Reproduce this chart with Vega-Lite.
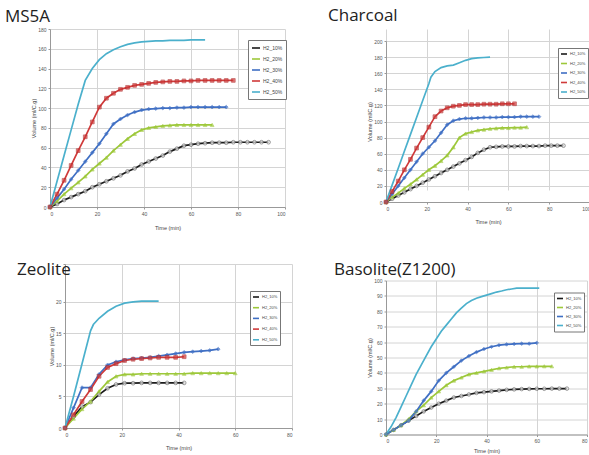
{
  "$schema": "https://vega.github.io/schema/vega-lite/v6.json",
  "padding": {"left": 5, "top": 7, "right": 0, "bottom": 0},
  "background": "white",
  "spacing": 35,
  "datasets": {
    "ms5a": [
      {"s":"H2_10%","t":0,"v":0},{"s":"H2_10%","t":3,"v":3},{"s":"H2_10%","t":6,"v":7},{"s":"H2_10%","t":9,"v":10},{"s":"H2_10%","t":12,"v":13},{"s":"H2_10%","t":15,"v":16},{"s":"H2_10%","t":18,"v":20},{"s":"H2_10%","t":21,"v":23},{"s":"H2_10%","t":24,"v":26},{"s":"H2_10%","t":27,"v":29},{"s":"H2_10%","t":30,"v":32},{"s":"H2_10%","t":33,"v":36},{"s":"H2_10%","t":36,"v":39},{"s":"H2_10%","t":39,"v":43},{"s":"H2_10%","t":42,"v":46},{"s":"H2_10%","t":45,"v":49},{"s":"H2_10%","t":48,"v":52},{"s":"H2_10%","t":51,"v":56},{"s":"H2_10%","t":54,"v":59},{"s":"H2_10%","t":57,"v":62},{"s":"H2_10%","t":60,"v":63},{"s":"H2_10%","t":63,"v":64},{"s":"H2_10%","t":66,"v":64.5},{"s":"H2_10%","t":69,"v":65},{"s":"H2_10%","t":72,"v":65},{"s":"H2_10%","t":75,"v":65},{"s":"H2_10%","t":78,"v":65.5},{"s":"H2_10%","t":81,"v":65.5},{"s":"H2_10%","t":84,"v":65.5},{"s":"H2_10%","t":87,"v":65.5},{"s":"H2_10%","t":90,"v":65.5},{"s":"H2_10%","t":93,"v":65.5},
      {"s":"H2_20%","t":0,"v":0},{"s":"H2_20%","t":3,"v":6},{"s":"H2_20%","t":6,"v":13},{"s":"H2_20%","t":9,"v":19},{"s":"H2_20%","t":12,"v":25},{"s":"H2_20%","t":15,"v":31},{"s":"H2_20%","t":18,"v":38},{"s":"H2_20%","t":21,"v":44},{"s":"H2_20%","t":24,"v":50},{"s":"H2_20%","t":27,"v":57},{"s":"H2_20%","t":30,"v":63},{"s":"H2_20%","t":33,"v":69},{"s":"H2_20%","t":36,"v":74},{"s":"H2_20%","t":39,"v":78},{"s":"H2_20%","t":42,"v":80},{"s":"H2_20%","t":45,"v":81},{"s":"H2_20%","t":48,"v":82},{"s":"H2_20%","t":51,"v":82.5},{"s":"H2_20%","t":54,"v":83},{"s":"H2_20%","t":57,"v":83},{"s":"H2_20%","t":60,"v":83},{"s":"H2_20%","t":63,"v":83},{"s":"H2_20%","t":66,"v":83},{"s":"H2_20%","t":69,"v":83},
      {"s":"H2_30%","t":0,"v":0},{"s":"H2_30%","t":3,"v":9},{"s":"H2_30%","t":6,"v":18},{"s":"H2_30%","t":9,"v":28},{"s":"H2_30%","t":12,"v":37},{"s":"H2_30%","t":15,"v":46},{"s":"H2_30%","t":18,"v":55},{"s":"H2_30%","t":21,"v":64},{"s":"H2_30%","t":24,"v":74},{"s":"H2_30%","t":27,"v":84},{"s":"H2_30%","t":30,"v":89},{"s":"H2_30%","t":33,"v":93},{"s":"H2_30%","t":36,"v":96},{"s":"H2_30%","t":39,"v":98},{"s":"H2_30%","t":42,"v":99},{"s":"H2_30%","t":45,"v":99.5},{"s":"H2_30%","t":48,"v":100},{"s":"H2_30%","t":51,"v":100},{"s":"H2_30%","t":54,"v":100.5},{"s":"H2_30%","t":57,"v":100.5},{"s":"H2_30%","t":60,"v":101},{"s":"H2_30%","t":63,"v":101},{"s":"H2_30%","t":66,"v":101},{"s":"H2_30%","t":69,"v":101},{"s":"H2_30%","t":72,"v":101},{"s":"H2_30%","t":75,"v":101},
      {"s":"H2_40%","t":0,"v":0},{"s":"H2_40%","t":3,"v":13},{"s":"H2_40%","t":6,"v":27},{"s":"H2_40%","t":9,"v":42},{"s":"H2_40%","t":12,"v":57},{"s":"H2_40%","t":15,"v":71},{"s":"H2_40%","t":18,"v":86},{"s":"H2_40%","t":21,"v":101},{"s":"H2_40%","t":24,"v":110},{"s":"H2_40%","t":27,"v":115},{"s":"H2_40%","t":30,"v":119},{"s":"H2_40%","t":33,"v":121},{"s":"H2_40%","t":36,"v":123},{"s":"H2_40%","t":39,"v":124},{"s":"H2_40%","t":42,"v":125},{"s":"H2_40%","t":45,"v":126},{"s":"H2_40%","t":48,"v":126.5},{"s":"H2_40%","t":51,"v":127},{"s":"H2_40%","t":54,"v":127},{"s":"H2_40%","t":57,"v":127.5},{"s":"H2_40%","t":60,"v":127.5},{"s":"H2_40%","t":63,"v":128},{"s":"H2_40%","t":66,"v":128},{"s":"H2_40%","t":69,"v":128},{"s":"H2_40%","t":72,"v":128},{"s":"H2_40%","t":75,"v":128},{"s":"H2_40%","t":78,"v":128},
      {"s":"H2_50%","t":0,"v":0},{"s":"H2_50%","t":3,"v":26},{"s":"H2_50%","t":6,"v":52},{"s":"H2_50%","t":9,"v":78},{"s":"H2_50%","t":12,"v":104},{"s":"H2_50%","t":15,"v":128},{"s":"H2_50%","t":18,"v":140},{"s":"H2_50%","t":21,"v":149},{"s":"H2_50%","t":24,"v":155},{"s":"H2_50%","t":27,"v":159},{"s":"H2_50%","t":30,"v":162},{"s":"H2_50%","t":33,"v":164.5},{"s":"H2_50%","t":36,"v":166},{"s":"H2_50%","t":39,"v":167},{"s":"H2_50%","t":42,"v":167.5},{"s":"H2_50%","t":45,"v":168},{"s":"H2_50%","t":48,"v":168},{"s":"H2_50%","t":51,"v":168.5},{"s":"H2_50%","t":54,"v":168.5},{"s":"H2_50%","t":57,"v":168.5},{"s":"H2_50%","t":60,"v":169},{"s":"H2_50%","t":63,"v":169},{"s":"H2_50%","t":66,"v":169}
    ],
    "charcoal": [
      {"s":"H2_10%","t":0,"v":0},{"s":"H2_10%","t":3,"v":4},{"s":"H2_10%","t":6,"v":8},{"s":"H2_10%","t":9,"v":12},{"s":"H2_10%","t":12,"v":16},{"s":"H2_10%","t":15,"v":20},{"s":"H2_10%","t":18,"v":24},{"s":"H2_10%","t":21,"v":28},{"s":"H2_10%","t":24,"v":32},{"s":"H2_10%","t":27,"v":36},{"s":"H2_10%","t":30,"v":40},{"s":"H2_10%","t":33,"v":44},{"s":"H2_10%","t":36,"v":48},{"s":"H2_10%","t":39,"v":52},{"s":"H2_10%","t":42,"v":56},{"s":"H2_10%","t":45,"v":61},{"s":"H2_10%","t":48,"v":65},{"s":"H2_10%","t":51,"v":68},{"s":"H2_10%","t":54,"v":68.5},{"s":"H2_10%","t":57,"v":69},{"s":"H2_10%","t":60,"v":69},{"s":"H2_10%","t":63,"v":69},{"s":"H2_10%","t":66,"v":69.5},{"s":"H2_10%","t":69,"v":69.5},{"s":"H2_10%","t":72,"v":69.5},{"s":"H2_10%","t":75,"v":69.5},{"s":"H2_10%","t":78,"v":70},{"s":"H2_10%","t":81,"v":70},{"s":"H2_10%","t":84,"v":70},{"s":"H2_10%","t":87,"v":70},
      {"s":"H2_20%","t":0,"v":0},{"s":"H2_20%","t":3,"v":6},{"s":"H2_20%","t":6,"v":11},{"s":"H2_20%","t":9,"v":17},{"s":"H2_20%","t":12,"v":22},{"s":"H2_20%","t":15,"v":28},{"s":"H2_20%","t":18,"v":34},{"s":"H2_20%","t":21,"v":40},{"s":"H2_20%","t":24,"v":45},{"s":"H2_20%","t":27,"v":51},{"s":"H2_20%","t":30,"v":58},{"s":"H2_20%","t":33,"v":68},{"s":"H2_20%","t":36,"v":80},{"s":"H2_20%","t":39,"v":85},{"s":"H2_20%","t":42,"v":87},{"s":"H2_20%","t":45,"v":89},{"s":"H2_20%","t":48,"v":90},{"s":"H2_20%","t":51,"v":91},{"s":"H2_20%","t":54,"v":91.5},{"s":"H2_20%","t":57,"v":92},{"s":"H2_20%","t":60,"v":92},{"s":"H2_20%","t":63,"v":92.5},{"s":"H2_20%","t":66,"v":92.5},{"s":"H2_20%","t":69,"v":93},
      {"s":"H2_30%","t":0,"v":0},{"s":"H2_30%","t":3,"v":10},{"s":"H2_30%","t":6,"v":20},{"s":"H2_30%","t":9,"v":30},{"s":"H2_30%","t":12,"v":40},{"s":"H2_30%","t":15,"v":50},{"s":"H2_30%","t":18,"v":60},{"s":"H2_30%","t":21,"v":68},{"s":"H2_30%","t":24,"v":76},{"s":"H2_30%","t":27,"v":86},{"s":"H2_30%","t":30,"v":96},{"s":"H2_30%","t":33,"v":101},{"s":"H2_30%","t":36,"v":103},{"s":"H2_30%","t":39,"v":104},{"s":"H2_30%","t":42,"v":104},{"s":"H2_30%","t":45,"v":104.5},{"s":"H2_30%","t":48,"v":105},{"s":"H2_30%","t":51,"v":105},{"s":"H2_30%","t":54,"v":105},{"s":"H2_30%","t":57,"v":105.5},{"s":"H2_30%","t":60,"v":105.5},{"s":"H2_30%","t":63,"v":105.5},{"s":"H2_30%","t":66,"v":106},{"s":"H2_30%","t":69,"v":106},{"s":"H2_30%","t":72,"v":106},{"s":"H2_30%","t":75,"v":106},
      {"s":"H2_40%","t":0,"v":0},{"s":"H2_40%","t":3,"v":13},{"s":"H2_40%","t":6,"v":26},{"s":"H2_40%","t":9,"v":40},{"s":"H2_40%","t":12,"v":53},{"s":"H2_40%","t":15,"v":67},{"s":"H2_40%","t":18,"v":80},{"s":"H2_40%","t":21,"v":93},{"s":"H2_40%","t":24,"v":106},{"s":"H2_40%","t":27,"v":113},{"s":"H2_40%","t":30,"v":117},{"s":"H2_40%","t":33,"v":119},{"s":"H2_40%","t":36,"v":120},{"s":"H2_40%","t":39,"v":121},{"s":"H2_40%","t":42,"v":121},{"s":"H2_40%","t":45,"v":121},{"s":"H2_40%","t":48,"v":121.5},{"s":"H2_40%","t":51,"v":121.5},{"s":"H2_40%","t":54,"v":121.5},{"s":"H2_40%","t":57,"v":122},{"s":"H2_40%","t":60,"v":122},{"s":"H2_40%","t":63,"v":122},
      {"s":"H2_50%","t":0,"v":0},{"s":"H2_50%","t":3,"v":21},{"s":"H2_50%","t":6,"v":42},{"s":"H2_50%","t":9,"v":63},{"s":"H2_50%","t":12,"v":84},{"s":"H2_50%","t":15,"v":105},{"s":"H2_50%","t":18,"v":126},{"s":"H2_50%","t":21,"v":147},{"s":"H2_50%","t":22,"v":155},{"s":"H2_50%","t":24,"v":162},{"s":"H2_50%","t":27,"v":167},{"s":"H2_50%","t":30,"v":169},{"s":"H2_50%","t":33,"v":170},{"s":"H2_50%","t":36,"v":173},{"s":"H2_50%","t":39,"v":176},{"s":"H2_50%","t":42,"v":178},{"s":"H2_50%","t":45,"v":179},{"s":"H2_50%","t":48,"v":179.5},{"s":"H2_50%","t":51,"v":180}
    ],
    "zeolite": [
      {"s":"H2_10%","t":0,"v":0},{"s":"H2_10%","t":3,"v":1.8},{"s":"H2_10%","t":6,"v":3.4},{"s":"H2_10%","t":9,"v":4.1},{"s":"H2_10%","t":12,"v":5.3},{"s":"H2_10%","t":15,"v":6.3},{"s":"H2_10%","t":18,"v":6.9},{"s":"H2_10%","t":21,"v":7.1},{"s":"H2_10%","t":24,"v":7.1},{"s":"H2_10%","t":27,"v":7.15},{"s":"H2_10%","t":30,"v":7.15},{"s":"H2_10%","t":33,"v":7.15},{"s":"H2_10%","t":36,"v":7.15},{"s":"H2_10%","t":39,"v":7.15},{"s":"H2_10%","t":42,"v":7.15},
      {"s":"H2_20%","t":0,"v":0},{"s":"H2_20%","t":3,"v":1.5},{"s":"H2_20%","t":6,"v":3},{"s":"H2_20%","t":9,"v":4.2},{"s":"H2_20%","t":12,"v":5.8},{"s":"H2_20%","t":15,"v":7.3},{"s":"H2_20%","t":18,"v":8.2},{"s":"H2_20%","t":21,"v":8.5},{"s":"H2_20%","t":24,"v":8.5},{"s":"H2_20%","t":27,"v":8.6},{"s":"H2_20%","t":30,"v":8.6},{"s":"H2_20%","t":33,"v":8.6},{"s":"H2_20%","t":36,"v":8.6},{"s":"H2_20%","t":39,"v":8.6},{"s":"H2_20%","t":42,"v":8.6},{"s":"H2_20%","t":45,"v":8.7},{"s":"H2_20%","t":48,"v":8.7},{"s":"H2_20%","t":51,"v":8.7},{"s":"H2_20%","t":54,"v":8.7},{"s":"H2_20%","t":57,"v":8.7},{"s":"H2_20%","t":60,"v":8.7},
      {"s":"H2_30%","t":0,"v":0},{"s":"H2_30%","t":3,"v":3.2},{"s":"H2_30%","t":6,"v":6.4},{"s":"H2_30%","t":9,"v":6.4},{"s":"H2_30%","t":12,"v":8.5},{"s":"H2_30%","t":15,"v":10},{"s":"H2_30%","t":18,"v":10.5},{"s":"H2_30%","t":21,"v":10.8},{"s":"H2_30%","t":24,"v":11},{"s":"H2_30%","t":27,"v":11.1},{"s":"H2_30%","t":30,"v":11.2},{"s":"H2_30%","t":33,"v":11.4},{"s":"H2_30%","t":36,"v":11.6},{"s":"H2_30%","t":39,"v":11.8},{"s":"H2_30%","t":42,"v":12},{"s":"H2_30%","t":45,"v":12.1},{"s":"H2_30%","t":48,"v":12.2},{"s":"H2_30%","t":51,"v":12.3},{"s":"H2_30%","t":54,"v":12.5},
      {"s":"H2_40%","t":0,"v":0},{"s":"H2_40%","t":3,"v":2.1},{"s":"H2_40%","t":6,"v":4.2},{"s":"H2_40%","t":9,"v":6.1},{"s":"H2_40%","t":12,"v":8.2},{"s":"H2_40%","t":15,"v":9.6},{"s":"H2_40%","t":18,"v":10.2},{"s":"H2_40%","t":21,"v":10.7},{"s":"H2_40%","t":24,"v":10.9},{"s":"H2_40%","t":27,"v":11},{"s":"H2_40%","t":30,"v":11.1},{"s":"H2_40%","t":33,"v":11.2},{"s":"H2_40%","t":36,"v":11.2},{"s":"H2_40%","t":39,"v":11.2},{"s":"H2_40%","t":42,"v":11.3},
      {"s":"H2_50%","t":0,"v":0},{"s":"H2_50%","t":3,"v":5},{"s":"H2_50%","t":6,"v":10.2},{"s":"H2_50%","t":9,"v":15.4},{"s":"H2_50%","t":10,"v":16.4},{"s":"H2_50%","t":12,"v":17.4},{"s":"H2_50%","t":15,"v":18.5},{"s":"H2_50%","t":18,"v":19.3},{"s":"H2_50%","t":21,"v":19.8},{"s":"H2_50%","t":24,"v":20},{"s":"H2_50%","t":27,"v":20.1},{"s":"H2_50%","t":30,"v":20.1},{"s":"H2_50%","t":33,"v":20.1}
    ],
    "basolite": [
      {"s":"H2_10%","t":0,"v":0},{"s":"H2_10%","t":3,"v":3},{"s":"H2_10%","t":6,"v":6},{"s":"H2_10%","t":9,"v":9},{"s":"H2_10%","t":12,"v":12},{"s":"H2_10%","t":15,"v":15},{"s":"H2_10%","t":18,"v":17.5},{"s":"H2_10%","t":21,"v":20},{"s":"H2_10%","t":24,"v":22},{"s":"H2_10%","t":27,"v":24},{"s":"H2_10%","t":30,"v":25},{"s":"H2_10%","t":33,"v":26},{"s":"H2_10%","t":36,"v":27},{"s":"H2_10%","t":39,"v":27.5},{"s":"H2_10%","t":42,"v":28},{"s":"H2_10%","t":45,"v":28.5},{"s":"H2_10%","t":48,"v":29},{"s":"H2_10%","t":51,"v":29.3},{"s":"H2_10%","t":54,"v":29.5},{"s":"H2_10%","t":57,"v":29.6},{"s":"H2_10%","t":60,"v":29.7},{"s":"H2_10%","t":63,"v":29.7},{"s":"H2_10%","t":66,"v":29.8},{"s":"H2_10%","t":69,"v":29.8},{"s":"H2_10%","t":72,"v":29.8},
      {"s":"H2_20%","t":0,"v":0},{"s":"H2_20%","t":3,"v":3},{"s":"H2_20%","t":6,"v":6},{"s":"H2_20%","t":9,"v":10},{"s":"H2_20%","t":12,"v":15},{"s":"H2_20%","t":15,"v":19},{"s":"H2_20%","t":18,"v":24},{"s":"H2_20%","t":21,"v":28},{"s":"H2_20%","t":24,"v":32},{"s":"H2_20%","t":27,"v":35},{"s":"H2_20%","t":30,"v":37},{"s":"H2_20%","t":33,"v":39},{"s":"H2_20%","t":36,"v":40},{"s":"H2_20%","t":39,"v":41},{"s":"H2_20%","t":42,"v":42},{"s":"H2_20%","t":45,"v":43},{"s":"H2_20%","t":48,"v":43.5},{"s":"H2_20%","t":51,"v":44},{"s":"H2_20%","t":54,"v":44},{"s":"H2_20%","t":57,"v":44.2},{"s":"H2_20%","t":60,"v":44.2},{"s":"H2_20%","t":63,"v":44.3},{"s":"H2_20%","t":66,"v":44.3},
      {"s":"H2_30%","t":0,"v":0},{"s":"H2_30%","t":3,"v":3},{"s":"H2_30%","t":6,"v":6},{"s":"H2_30%","t":9,"v":9},{"s":"H2_30%","t":12,"v":15},{"s":"H2_30%","t":15,"v":22},{"s":"H2_30%","t":18,"v":28},{"s":"H2_30%","t":21,"v":35},{"s":"H2_30%","t":24,"v":40},{"s":"H2_30%","t":27,"v":44},{"s":"H2_30%","t":30,"v":48},{"s":"H2_30%","t":33,"v":51},{"s":"H2_30%","t":36,"v":53.5},{"s":"H2_30%","t":39,"v":55.5},{"s":"H2_30%","t":42,"v":57},{"s":"H2_30%","t":45,"v":58},{"s":"H2_30%","t":48,"v":58.5},{"s":"H2_30%","t":51,"v":58.8},{"s":"H2_30%","t":54,"v":59},{"s":"H2_30%","t":57,"v":59},{"s":"H2_30%","t":60,"v":59.5},
      {"s":"H2_50%","t":0,"v":0},{"s":"H2_50%","t":2,"v":5},{"s":"H2_50%","t":4,"v":11},{"s":"H2_50%","t":6,"v":18},{"s":"H2_50%","t":8,"v":25},{"s":"H2_50%","t":10,"v":32},{"s":"H2_50%","t":12,"v":39},{"s":"H2_50%","t":14,"v":45},{"s":"H2_50%","t":16,"v":51},{"s":"H2_50%","t":18,"v":57},{"s":"H2_50%","t":20,"v":62},{"s":"H2_50%","t":22,"v":67},{"s":"H2_50%","t":24,"v":71},{"s":"H2_50%","t":26,"v":75},{"s":"H2_50%","t":28,"v":79},{"s":"H2_50%","t":30,"v":82},{"s":"H2_50%","t":32,"v":85},{"s":"H2_50%","t":34,"v":87},{"s":"H2_50%","t":36,"v":88.5},{"s":"H2_50%","t":38,"v":89.5},{"s":"H2_50%","t":40,"v":90.5},{"s":"H2_50%","t":42,"v":91.5},{"s":"H2_50%","t":44,"v":92.5},{"s":"H2_50%","t":46,"v":93.2},{"s":"H2_50%","t":48,"v":94},{"s":"H2_50%","t":50,"v":94.5},{"s":"H2_50%","t":52,"v":95},{"s":"H2_50%","t":55,"v":95},{"s":"H2_50%","t":58,"v":95},{"s":"H2_50%","t":61,"v":95}
    ]
  },
  "hconcat": [
    {
      "spacing": 30,
      "resolve": {"scale": {"x": "independent", "y": "independent", "color": "independent", "shape": "independent", "fill": "independent", "stroke": "independent", "size": "independent"}, "legend": {"color": "independent"}},
      "vconcat": [
        {
          "width": 235, "height": 178,
          "title": {"text": "MS5A", "dx": -45, "offset": 1.5},
          "data": {"name": "ms5a"},
          "encoding": {
            "x": {"field": "t", "type": "quantitative", "scale": {"domain": [0, 100], "nice": false}, "axis": {"values": [0, 20, 40, 60, 80, 100], "title": "Time (min)", "titlePadding": 9}},
            "y": {"field": "v", "type": "quantitative", "scale": {"domain": [0, 180], "nice": false}, "axis": {"values": [0, 20, 40, 60, 80, 100, 120, 140, 160, 180], "title": "Volume (ml/C.g)"}}
          },
          "layer": [
            {
              "mark": {"type": "line", "strokeWidth": 1.7},
              "encoding": {
                "color": {"field": "s", "type": "nominal", "scale": {"domain": ["H2_10%", "H2_20%", "H2_30%", "H2_40%", "H2_50%"], "range": ["#1a1a1a", "#9dc83a", "#3f6fc4", "#d03a3a", "#4bb0cc"]}, "legend": {"title": null, "orient": "none", "legendX": 198, "legendY": 11, "labelFontSize": 5, "symbolSize": 64, "padding": 3, "rowPadding": 2}}
              }
            },
            {
              "transform": [{"filter": "datum.s != 'H2_50%'"}],
              "mark": {"type": "point", "filled": true, "strokeWidth": 0.8},
              "encoding": {
                "shape": {"field": "s", "type": "nominal", "scale": {"domain": ["H2_10%", "H2_20%", "H2_30%", "H2_40%"], "range": ["circle", "triangle-up", "diamond", "square"]}, "legend": null},
                "size": {"field": "s", "type": "nominal", "scale": {"domain": ["H2_10%", "H2_20%", "H2_30%", "H2_40%"], "range": [14, 14, 14, 26]}, "legend": null},
                "fill": {"field": "s", "type": "nominal", "scale": {"domain": ["H2_10%", "H2_20%", "H2_30%", "H2_40%"], "range": ["#e8e8e8", "#9dc83a", "#3f6fc4", "#d03a3a"]}, "legend": null},
                "stroke": {"field": "s", "type": "nominal", "scale": {"domain": ["H2_10%", "H2_20%", "H2_30%", "H2_40%"], "range": ["#555555", "#9dc83a", "#3f6fc4", "#b02a2a"]}, "legend": null}
              }
            }
          ]
        },
        {
          "width": 242, "height": 164,
          "title": {"text": "Zeolite", "dx": -33, "offset": 0, "dy": 17},
          "data": {"name": "zeolite"},
          "encoding": {
            "x": {"field": "t", "type": "quantitative", "scale": {"domain": [0, 80], "nice": false, "range": [15, 242]}, "axis": {"values": [0, 20, 40, 60, 80], "title": "Time (min)", "titlePadding": 8}},
            "y": {"field": "v", "type": "quantitative", "scale": {"domain": [0, 26], "nice": false}, "axis": {"values": [0, 5, 10, 15, 20, 26], "labelExpr": "datum.value == 26 ? '' : datum.label", "offset": -15, "title": "Volume (ml/C.g)"}}
          },
          "layer": [
            {
              "mark": {"type": "line", "strokeWidth": 1.7},
              "encoding": {
                "color": {"field": "s", "type": "nominal", "scale": {"domain": ["H2_10%", "H2_20%", "H2_30%", "H2_40%", "H2_50%"], "range": ["#1a1a1a", "#9dc83a", "#3f6fc4", "#d03a3a", "#4bb0cc"]}, "legend": {"title": null, "orient": "none", "legendX": 200, "legendY": 27, "labelFontSize": 4, "symbolSize": 36, "padding": 2, "rowPadding": 2.7}}
              }
            },
            {
              "transform": [{"filter": "datum.s != 'H2_50%'"}],
              "mark": {"type": "point", "filled": true, "strokeWidth": 0.8},
              "encoding": {
                "shape": {"field": "s", "type": "nominal", "scale": {"domain": ["H2_10%", "H2_20%", "H2_30%", "H2_40%"], "range": ["circle", "triangle-up", "diamond", "square"]}, "legend": null},
                "size": {"field": "s", "type": "nominal", "scale": {"domain": ["H2_10%", "H2_20%", "H2_30%", "H2_40%"], "range": [14, 14, 14, 24]}, "legend": null},
                "fill": {"field": "s", "type": "nominal", "scale": {"domain": ["H2_10%", "H2_20%", "H2_30%", "H2_40%"], "range": ["#e8e8e8", "#9dc83a", "#3f6fc4", "#d03a3a"]}, "legend": null},
                "stroke": {"field": "s", "type": "nominal", "scale": {"domain": ["H2_10%", "H2_20%", "H2_30%", "H2_40%"], "range": ["#555555", "#9dc83a", "#3f6fc4", "#b02a2a"]}, "legend": null}
              }
            }
          ]
        }
      ]
    },
    {
      "spacing": 35.5,
      "resolve": {"scale": {"x": "independent", "y": "independent", "color": "independent", "shape": "independent", "fill": "independent", "stroke": "independent", "size": "independent"}, "legend": {"color": "independent"}},
      "vconcat": [
        {
          "width": 204, "height": 173,
          "title": {"text": "Charcoal", "dx": -58, "offset": 4},
          "data": {"name": "charcoal"},
          "encoding": {
            "x": {"field": "t", "type": "quantitative", "scale": {"domain": [0, 100], "nice": false}, "axis": {"values": [0, 20, 40, 60, 80, 100], "title": "Time (min)", "titlePadding": 8.5}},
            "y": {"field": "v", "type": "quantitative", "scale": {"domain": [0, 200], "nice": false, "range": [173, 12]}, "axis": {"values": [0, 20, 40, 60, 80, 100, 120, 140, 160, 180, 200], "title": "Volume (ml/C.g)"}}
          },
          "layer": [
            {
              "mark": {"type": "line", "strokeWidth": 1.7},
              "encoding": {
                "color": {"field": "s", "type": "nominal", "scale": {"domain": ["H2_10%", "H2_20%", "H2_30%", "H2_40%", "H2_50%"], "range": ["#1a1a1a", "#9dc83a", "#3f6fc4", "#d03a3a", "#4bb0cc"]}, "legend": {"title": null, "orient": "none", "legendX": 172, "legendY": 19, "labelFontSize": 4, "symbolSize": 36, "padding": 2, "rowPadding": 1.5}}
              }
            },
            {
              "transform": [{"filter": "datum.s != 'H2_50%'"}],
              "mark": {"type": "point", "filled": true, "strokeWidth": 0.8},
              "encoding": {
                "shape": {"field": "s", "type": "nominal", "scale": {"domain": ["H2_10%", "H2_20%", "H2_30%", "H2_40%"], "range": ["circle", "triangle-up", "diamond", "square"]}, "legend": null},
                "size": {"field": "s", "type": "nominal", "scale": {"domain": ["H2_10%", "H2_20%", "H2_30%", "H2_40%"], "range": [14, 14, 14, 24]}, "legend": null},
                "fill": {"field": "s", "type": "nominal", "scale": {"domain": ["H2_10%", "H2_20%", "H2_30%", "H2_40%"], "range": ["#e8e8e8", "#9dc83a", "#3f6fc4", "#d03a3a"]}, "legend": null},
                "stroke": {"field": "s", "type": "nominal", "scale": {"domain": ["H2_10%", "H2_20%", "H2_30%", "H2_40%"], "range": ["#555555", "#9dc83a", "#3f6fc4", "#b02a2a"]}, "legend": null}
              }
            }
          ]
        },
        {
          "width": 201, "height": 154,
          "title": {"text": "Basolite(Z1200)", "dx": -52, "offset": 0},
          "data": {"name": "basolite"},
          "encoding": {
            "x": {"field": "t", "type": "quantitative", "scale": {"domain": [0, 80], "nice": false}, "axis": {"values": [0, 20, 40, 60, 80], "title": "Time (min)", "titlePadding": 5}},
            "y": {"field": "v", "type": "quantitative", "scale": {"domain": [0, 100], "nice": false}, "axis": {"values": [0, 10, 20, 30, 40, 50, 60, 70, 80, 90, 100], "title": "Volume (ml/C.g)"}}
          },
          "layer": [
            {
              "mark": {"type": "line", "strokeWidth": 1.7},
              "encoding": {
                "color": {"field": "s", "type": "nominal", "scale": {"domain": ["H2_10%", "H2_20%", "H2_30%", "H2_50%"], "range": ["#1a1a1a", "#9dc83a", "#3f6fc4", "#4bb0cc"]}, "legend": {"title": null, "orient": "none", "legendX": 168, "legendY": 12, "labelFontSize": 4, "symbolSize": 36, "padding": 2, "rowPadding": 1}}
              }
            },
            {
              "transform": [{"filter": "datum.s != 'H2_50%'"}],
              "mark": {"type": "point", "filled": true, "size": 13, "strokeWidth": 0.8},
              "encoding": {
                "shape": {"field": "s", "type": "nominal", "scale": {"domain": ["H2_10%", "H2_20%", "H2_30%"], "range": ["circle", "triangle-up", "diamond"]}, "legend": null},
                "fill": {"field": "s", "type": "nominal", "scale": {"domain": ["H2_10%", "H2_20%", "H2_30%"], "range": ["#e8e8e8", "#9dc83a", "#3f6fc4"]}, "legend": null},
                "stroke": {"field": "s", "type": "nominal", "scale": {"domain": ["H2_10%", "H2_20%", "H2_30%"], "range": ["#555555", "#9dc83a", "#3f6fc4"]}, "legend": null}
              }
            }
          ]
        }
      ]
    }
  ],
  "resolve": {"scale": {"x": "independent", "y": "independent", "color": "independent", "shape": "independent", "fill": "independent", "stroke": "independent", "size": "independent"}, "legend": {"color": "independent"}},
  "config": {
    "view": {"stroke": null},
    "title": {"font": "Open Sans", "fontSize": 17, "fontWeight": "normal", "color": "#222222", "anchor": "start", "baseline": "alphabetic", "frame": "group"},
    "axis": {"labelFont": "Liberation Sans", "labelFontSize": 5, "labelColor": "#555555", "labelOverlap": false, "titleFont": "Liberation Sans", "titleFontSize": 5.5, "titleFontWeight": "normal", "titleColor": "#444444", "gridColor": "#d4d4d4", "domainColor": "#999999", "tickColor": "#999999", "tickSize": 2, "labelPadding": 2},
    "axisY": {"titlePadding": 1},
    "legend": {"labelFont": "Liberation Sans", "labelColor": "#444444", "fillColor": "white", "strokeColor": "#777777", "symbolType": "stroke", "symbolStrokeWidth": 1.6, "labelOffset": 2}
  }
}
